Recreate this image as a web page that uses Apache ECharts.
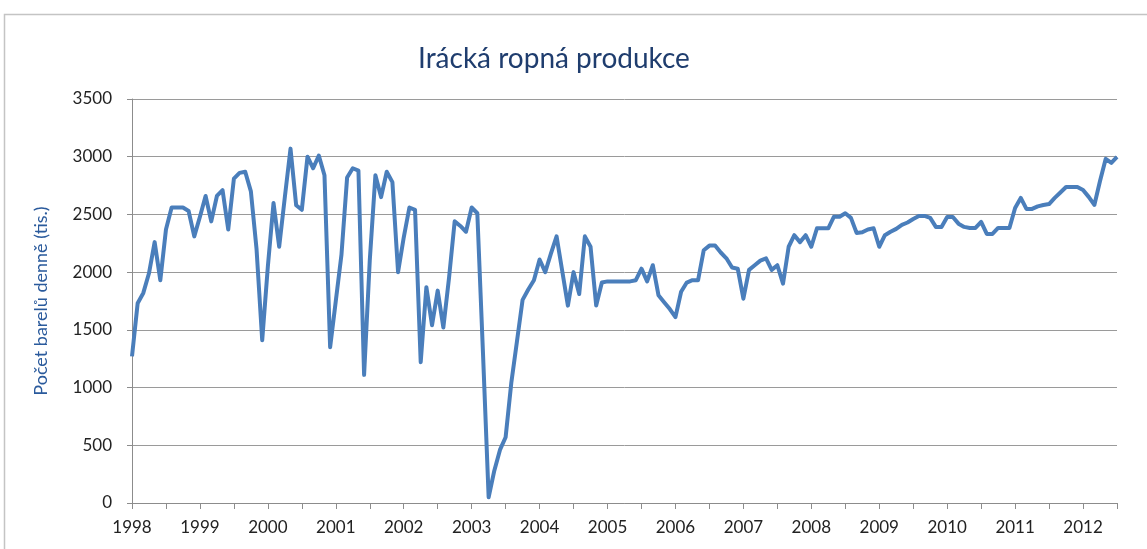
<!DOCTYPE html>
<html>
<head>
<meta charset="utf-8">
<script src="https://cdn.jsdelivr.net/npm/echarts@6/dist/echarts.min.js"></script>
<style>
html,body{margin:0;padding:0;background:#fff;}
#chart{width:1147px;height:549px;}
</style>
</head>
<body>
<div id="chart"></div>
<script>
// Data: Iraqi oil production, thousand barrels per day, monthly Jan 1998 – Jul 2012
var years = ['1998','1999','2000','2001','2002','2003','2004','2005','2006','2007','2008','2009','2010','2011','2012'];
var prod1998 = [1270,1730,1820,1990,2260,1930,2370,2560,2560,2560,2530,2310];
var prod1999 = [2480,2660,2440,2660,2710,2370,2810,2860,2870,2700,2200,1410];
var prod2000 = [2050,2600,2220,2650,3070,2580,2540,3000,2900,3010,2840,1350];
var prod2001 = [1750,2150,2820,2900,2880,1110,2100,2840,2650,2870,2780,2000];
var prod2002 = [2300,2560,2540,1220,1870,1540,1840,1520,1950,2440,2400,2350];
var prod2003 = [2560,2510,1300,50,280,460,570,1040,1400,1760,1850,1930];
var prod2004 = [2110,2000,2160,2310,2010,1710,2000,1810,2310,2220,1710,1910];
var prod2005 = [1920,1920,1920,1920,1920,1930,2030,1920,2060,1800,1740,1680];
var prod2006 = [1610,1830,1910,1930,1930,2190,2230,2230,2170,2120,2040,2030];
var prod2007 = [1770,2020,2060,2100,2120,2020,2060,1900,2220,2320,2260,2320];
var prod2008 = [2220,2380,2380,2380,2480,2480,2510,2470,2340,2345,2370,2380];
var prod2009 = [2220,2320,2350,2375,2410,2430,2460,2487,2487,2470,2392,2392];
var prod2010 = [2478,2478,2420,2392,2383,2383,2435,2331,2331,2383,2383,2383];
var prod2011 = [2556,2643,2548,2548,2570,2582,2590,2643,2690,2738,2738,2738];
var prod2012 = [2712,2652,2582,2790,2981,2946,2998];
var yTicks = [0,500,1000,1500,2000,2500,3000,3500];

var values = [].concat(prod1998,prod1999,prod2000,prod2001,prod2002,prod2003,prod2004,
  prod2005,prod2006,prod2007,prod2008,prod2009,prod2010,prod2011,prod2012);
var categories = [];
for (var y = 0; y < years.length; y++) {
  for (var m = 1; m <= 12; m++) {
    if (categories.length < values.length) categories.push(years[y] + '-' + (m < 10 ? '0' + m : m));
  }
}

var chart = echarts.init(document.getElementById('chart'), null, {renderer:'canvas'});
chart.setOption({
  animation: false,
  backgroundColor: '#ffffff',
  title: {
    text: 'Irácká ropná produkce',
    left: 413,
    top: 40,
    textStyle: {fontFamily: 'Lato', fontSize: 28, fontWeight: 'normal', color: '#1F3D6E'}
  },
  graphic: [{
    type: 'rect',
    shape: {x: 4.5, y: 14.5, width: 1160, height: 560},
    style: {fill: 'none', stroke: '#c4c4c4', lineWidth: 1.5},
    silent: true
  }],
  grid: {left: 132, right: 30, top: 99, bottom: 46, containLabel: false},
  xAxis: {
    type: 'category',
    data: categories,
    boundaryGap: false,
    axisLine: {show: true, lineStyle: {color: '#8c8c8c', width: 1}},
    axisTick: {show: true, length: 6, interval: function (i) { return i % 6 === 0; }, lineStyle: {color: '#8c8c8c'}},
    axisLabel: {
      interval: function (i) { return i % 12 === 0; },
      formatter: function (v) { return v.substring(0, 4); },
      color: '#222', fontFamily: 'Lato', fontSize: 17, margin: 16
    },
    splitLine: {show: false}
  },
  yAxis: {
    type: 'value',
    min: 0, max: 3500, interval: 500,
    name: 'Počet barelů denně (tis.)',
    nameLocation: 'middle',
    nameRotate: 90,
    nameGap: 82,
    nameTextStyle: {fontFamily: 'Lato', fontSize: 18, color: '#2A5A9C'},
    axisLine: {show: true, lineStyle: {color: '#8c8c8c', width: 1}},
    axisTick: {show: true, length: 5, lineStyle: {color: '#8c8c8c'}},
    axisLabel: {color: '#222', fontFamily: 'Lato', fontSize: 17, margin: 20,
      formatter: function (v) { return yTicks.indexOf(v) >= 0 ? String(v) : ''; }},
    splitLine: {show: true, lineStyle: {color: '#9a9a9a', width: 1}}
  },
  series: [{
    type: 'line',
    data: values,
    showSymbol: false,
    symbol: 'none',
    lineStyle: {color: '#4A7EBB', width: 4, join: 'round'},
    smooth: false
  }]
});
</script>
</body>
</html>
